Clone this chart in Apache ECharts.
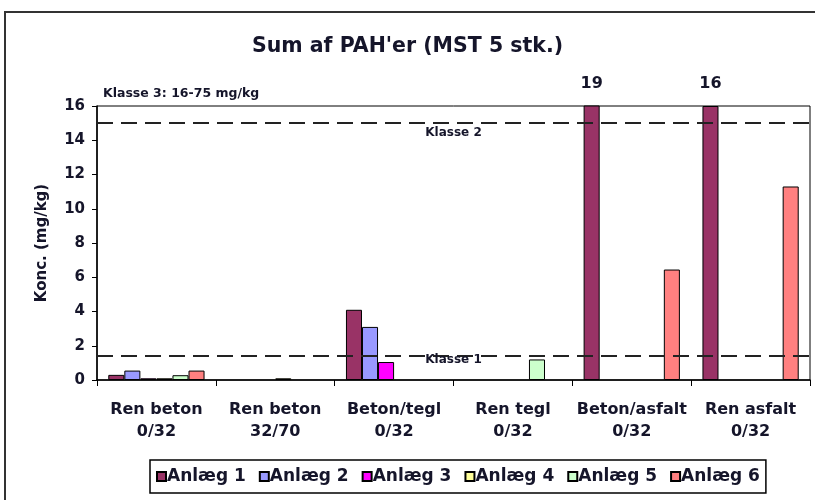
<!DOCTYPE html>
<html>
<head>
<meta charset="utf-8">
<script src="https://cdn.jsdelivr.net/npm/echarts@6/dist/echarts.min.js"></script>
<style>
  html, body { margin: 0; padding: 0; background: #fff; }
  #chart { width: 815px; height: 500px; }
</style>
</head>
<body>
<div id="chart"></div>
<script>
// Categories (material fractions) and PAH sums per plant, mg/kg
const categories = ['Ren beton\n0/32', 'Ren beton\n32/70', 'Beton/tegl\n0/32', 'Ren tegl\n0/32', 'Beton/asfalt\n0/32', 'Ren asfalt\n0/32'];
const seriesNames = ['Anlæg 1', 'Anlæg 2', 'Anlæg 3', 'Anlæg 4', 'Anlæg 5', 'Anlæg 6'];
const anlaeg1 = [0.3, '-', 4.1, '-', 19, 16];
const anlaeg2 = [0.55, '-', 3.1, '-', '-', '-'];
const anlaeg3 = [0.1, '-', 1.05, '-', '-', '-'];
const anlaeg4 = [0.1, 0.1, '-', '-', '-', '-'];
const anlaeg5 = [0.28, '-', '-', 1.2, '-', '-'];
const anlaeg6 = [0.55, '-', '-', '-', 6.45, 11.3];
const klasse1 = 1.4;
const klasse2 = 15;
const yTicks = [0, 2, 4, 6, 8, 10, 12, 14, 16];

const seriesValues = [anlaeg1, anlaeg2, anlaeg3, anlaeg4, anlaeg5, anlaeg6];
const colors = ['#993366', '#9999FF', '#FF00FF', '#FFFF99', '#CCFFCC', '#FF8080'];
const yMax = yTicks[yTicks.length - 1];
const txt = '#15152a';
const font = 'DejaVu Sans';

// Bars reaching the top of the axis are clipped there and get their value printed above
function toData(values) {
  return values.map(v => {
    if (typeof v === 'number' && v >= yMax) {
      return { value: v, label: { show: true, position: 'top', distance: 14,
        fontFamily: font, fontWeight: 'bold', fontSize: 16, color: txt } };
    }
    return v;
  });
}

const series = seriesValues.map((vals, i) => ({
  name: seriesNames[i],
  type: 'bar',
  data: toData(vals),
  barGap: '0%',
  barCategoryGap: '19%',
  clip: true,
  itemStyle: { color: colors[i], borderColor: '#000', borderWidth: 1 },
  emphasis: { disabled: true }
}));

series[0].markLine = {
  silent: true,
  symbol: 'none',
  animation: false,
  lineStyle: { color: '#222', type: [16, 8], width: 2 },
  data: [
    { yAxis: klasse2, label: { formatter: 'Klasse 2', position: 'insideMiddleBottom', distance: 4 } },
    { yAxis: klasse1, label: { formatter: 'Klasse 1', position: 'middle', distance: -10 } }
  ],
  label: { fontFamily: font, fontWeight: 'bold', fontSize: 12, color: txt }
};

const chart = echarts.init(document.getElementById('chart'), null, { renderer: 'canvas' });
chart.setOption({
  animation: false,
  backgroundColor: '#fff',
  color: colors,
  graphic: [{
    type: 'rect', shape: { x: 5, y: 12, width: 830, height: 520 },
    style: { fill: 'none', stroke: '#333', lineWidth: 2 }, silent: true
  }],
  title: [{
    text: "Sum af PAH'er (MST 5 stk.)",
    left: 'center', top: 31,
    textStyle: { fontFamily: font, fontWeight: 'bold', fontSize: 20.5, color: txt }
  }, {
    text: 'Klasse 3: 16-75 mg/kg',
    left: 98, top: 82,
    textStyle: { fontFamily: font, fontWeight: 'bold', fontSize: 12.5, color: txt }
  }],
  grid: { left: 97, right: 5, top: 106, bottom: 120, show: true, borderColor: '#000', borderWidth: 1 },
  legend: {
    data: seriesNames,
    left: 150, top: 460,
    padding: [8, 6],
    itemGap: 13,
    itemWidth: 9, itemHeight: 9,
    icon: 'rect',
    borderColor: '#000', borderWidth: 1.5,
    textStyle: { fontFamily: font, fontWeight: 'bold', fontSize: 17, color: txt, padding: [0, 0, 0, -4] }
  },
  xAxis: {
    type: 'category',
    data: categories,
    axisLine: { lineStyle: { color: '#000', width: 1.5 } },
    axisTick: { show: true, length: 6, lineStyle: { color: '#000' } },
    axisLabel: { interval: 0, fontFamily: font, fontWeight: 'bold', fontSize: 16, color: txt, lineHeight: 22, margin: 19 }
  },
  yAxis: {
    type: 'value',
    min: 0, max: yMax, interval: 2,
    name: 'Konc. (mg/kg)',
    nameLocation: 'middle',
    nameGap: 47,
    nameTextStyle: { fontFamily: font, fontWeight: 'bold', fontSize: 15, color: txt },
    axisLine: { show: true, lineStyle: { color: '#000', width: 1.5 } },
    axisTick: { show: true, length: 5, lineStyle: { color: '#000' } },
    splitLine: { show: false },
    axisLabel: { fontFamily: font, fontWeight: 'bold', fontSize: 15, color: txt, margin: 12 }
  },
  series: series
});
</script>
</body>
</html>
